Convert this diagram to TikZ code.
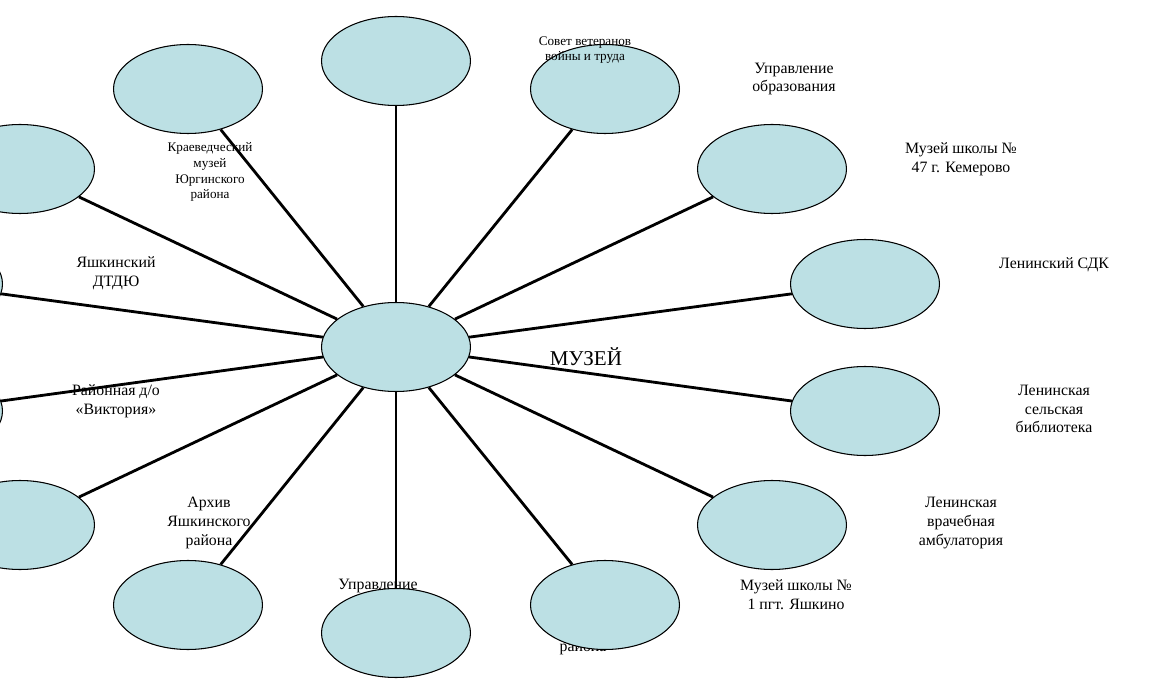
\documentclass[tikz,border=0pt]{standalone}
\usepackage{fontspec}
\setmainfont{Liberation Serif}
\usetikzlibrary{shapes.geometric}
\definecolor{ovalc}{RGB}{188,224,228}
\pgfdeclarelayer{bg}
\pgfsetlayers{bg,main}
\begin{document}
\begin{tikzpicture}[x=0.02cm,y=-0.02cm,
  oval/.style={ellipse, draw=black, line width=0.6pt, fill=ovalc,
    minimum width=2.98cm, minimum height=1.78cm, inner sep=0pt},
  spoke/.style={line width=1.6pt},
  lbl/.style={font=\fontsize{9}{10.6}\selectfont, align=center, inner sep=0pt},
  slbl/.style={font=\fontsize{7.5}{9}\selectfont, align=center, inner sep=0pt},
  big/.style={font=\fontsize{12}{14}\selectfont, inner sep=0pt}]
\clip (0,0) rectangle (1171,696);
% ovals
\node[oval] (m)  at (396,347) {};
\node[oval] (t)  at (396,61)  {};
\node[oval] (tl) at (188,89)  {};
\node[oval] (tr) at (605,89)  {};
\node[oval] (r1) at (772,169) {};
\node[oval] (r2) at (865,284) {};
\node[oval] (r3) at (865,411) {};
\node[oval] (r4) at (772,525) {};
\node[oval] (br) at (605,605) {};
\node[oval] (b)  at (396,633) {};
\node[oval] (bl) at (188,605) {};
\node[oval] (l4) at (20,525)  {};
\node[oval] (l1) at (20,169)  {};
\node[oval] (l2) at (-72,284) {};
\node[oval] (l3) at (-72,411) {};
\begin{pgfonlayer}{bg}
\fill[white] (0,0) rectangle (1171,696);
% labels
\node[slbl] (kr) at (210,172) {Краеведческий\\музей\\Юргинского\\района};
\node[lbl] (ya) at (116,273) {Яшкинский\\ДТДЮ};
\node[lbl] (vi) at (116,401) {Районная д/о\\«Виктория»};
\node[lbl] (ar) at (209,523) {Архив\\Яшкинского\\района};
\node[lbl] (us) at (378,594) {Управление\\с};
\node[lbl] (ra) at (583,648) {района};
\node[lbl] (m1) at (796,595) {Музей школы №\\1 пгт. Яшкино};
\node[lbl] (va) at (961,523) {Ленинская\\врачебная\\амбулатория};
\node[lbl] (sb) at (1054,409) {Ленинская\\сельская\\библиотека};
\node[lbl] (sd) at (1054,265) {Ленинский СДК};
\node[lbl] (m47) at (961,159) {Музей школы №\\47 г. Кемерово};
\node[lbl] (uo) at (794,79) {Управление\\образования};
\node[big] (mu) at (586,357) {МУЗЕЙ};
% spokes
\foreach \o in {t,tl,tr,r1,r2,r3,r4,br,b,bl,l4,l1,l2,l3}
  \draw[spoke] (m) -- (\o);
\end{pgfonlayer}
\node[slbl] (sv) at (585,50) {Совет ветеранов\\войны и труда};
\end{tikzpicture}
\end{document}
